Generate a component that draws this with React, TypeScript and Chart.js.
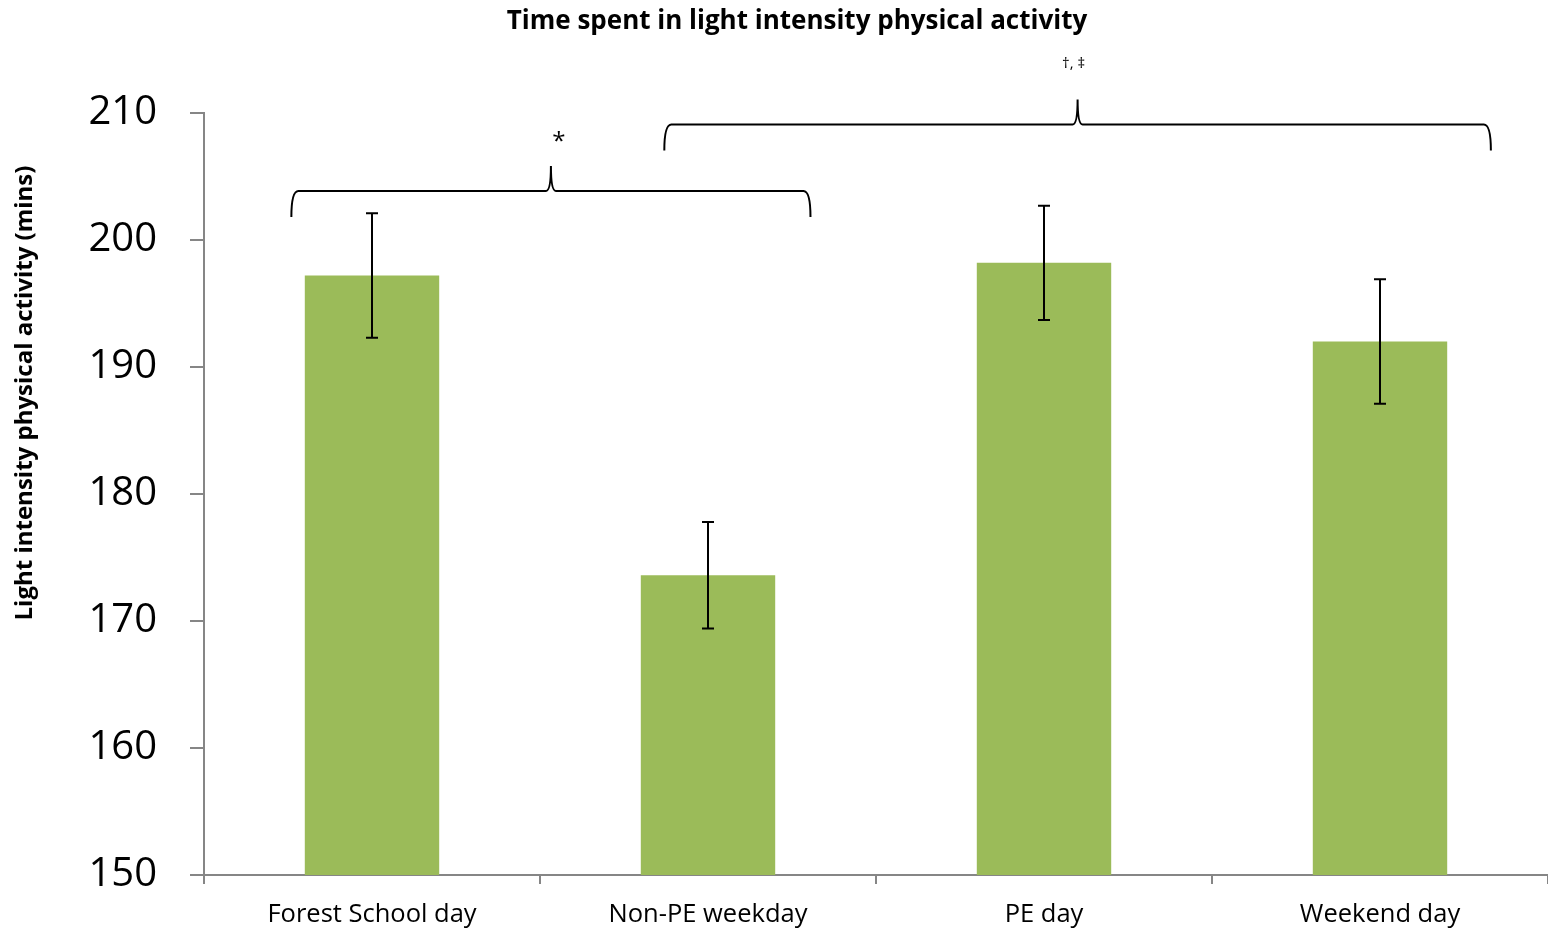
import React, { useEffect, useRef } from "react";
import { Chart, registerables } from "chart.js";

Chart.register(...registerables);

const categories = ["Forest School day", "Non-PE weekday", "PE day", "Weekend day"];
const meanMinutes = [197.2, 173.6, 198.2, 192.0];
const errorMinutes = [4.9, 4.2, 4.5, 4.9];
const yTicks = [150, 160, 170, 180, 190, 200, 210];

// Significance braces: span in category units, height in minutes
const braceStart = [-0.24, 0.87];
const braceEnd = [1.305, 3.33];
const braceLevel = [203.85, 209.1];
const braceLabels = ["*", "\u2020, \u2021"];

const FONT = "'Open Sans', 'DejaVu Sans', sans-serif";
const AXIS_GREY = "#868686";

const overlayPlugin = {
  id: "overlay",
  afterDatasetsDraw(chart: any) {
    const ctx = chart.ctx;
    const x = chart.scales.x;
    const y = chart.scales.y;
    const catW = x.getPixelForValue(1) - x.getPixelForValue(0);

    ctx.save();
    // error bars
    ctx.strokeStyle = "#000";
    ctx.lineWidth = 2;
    meanMinutes.forEach((m, i) => {
      const cx = x.getPixelForValue(i);
      const top = y.getPixelForValue(m + errorMinutes[i]);
      const bot = y.getPixelForValue(m - errorMinutes[i]);
      ctx.beginPath();
      ctx.moveTo(cx, top);
      ctx.lineTo(cx, bot);
      ctx.moveTo(cx - 6, top);
      ctx.lineTo(cx + 6, top);
      ctx.moveTo(cx - 6, bot);
      ctx.lineTo(cx + 6, bot);
      ctx.stroke();
    });

    // curly braces
    ctx.lineWidth = 2;
    braceStart.forEach((s, i) => {
      const x0 = x.getPixelForValue(0) + s * catW;
      const x1 = x.getPixelForValue(0) + braceEnd[i] * catW;
      const yl = y.getPixelForValue(braceLevel[i]);
      const xm = (x0 + x1) / 2;
      const leg = 26;
      const tip = 25;
      const r = 7;
      ctx.beginPath();
      ctx.moveTo(x0, yl + leg);
      ctx.quadraticCurveTo(x0, yl, x0 + r, yl);
      ctx.lineTo(xm - 5, yl);
      ctx.quadraticCurveTo(xm, yl, xm, yl - tip);
      ctx.quadraticCurveTo(xm, yl, xm + 5, yl);
      ctx.lineTo(x1 - r, yl);
      ctx.quadraticCurveTo(x1, yl, x1, yl + leg);
      ctx.stroke();

      ctx.fillStyle = "#000";
      ctx.textAlign = "center";
      ctx.textBaseline = "middle";
      if (i === 0) {
        ctx.font = `24px ${FONT}`;
        ctx.fillText(braceLabels[i], xm + 8, yl - 49);
      } else {
        ctx.font = `15px ${FONT}`;
        ctx.fillText(braceLabels[i], xm - 4, yl - 61);
      }
    });

    // title
    ctx.fillStyle = "#000";
    ctx.textAlign = "center";
    ctx.textBaseline = "middle";
    ctx.font = `bold 26px ${FONT}`;
    ctx.fillText("Time spent in light intensity physical activity", 797, 22);

    // y-axis title
    ctx.translate(25, 393);
    ctx.rotate(-Math.PI / 2);
    ctx.font = `bold 24px ${FONT}`;
    ctx.fillText("Light intensity physical activity (mins)", 0, 0);
    ctx.restore();
  },
};

export default function App() {
  const ref = useRef<HTMLCanvasElement>(null);

  useEffect(() => {
    if (!ref.current) return;
    const chart = new Chart(ref.current, {
      type: "bar",
      data: {
        labels: categories,
        datasets: [
          {
            data: meanMinutes,
            backgroundColor: "#9BBB59",
            borderWidth: 0,
            barPercentage: 0.4,
            categoryPercentage: 1,
          },
        ],
      },
      options: {
        responsive: false,
        animation: false,
        layout: { padding: { top: 113, left: 0, right: 0, bottom: 0 } },
        plugins: { legend: { display: false }, tooltip: { enabled: false } },
        scales: {
          x: {
            grid: {
              display: true,
              drawOnChartArea: false,
              drawTicks: true,
              tickLength: 9,
              color: AXIS_GREY,
              lineWidth: 2,
            },
            border: { color: AXIS_GREY, width: 2 },
            ticks: {
              color: "#000",
              font: { family: FONT, size: 25.5 },
              padding: 15,
              maxRotation: 0,
            },
            afterFit(scale: any) {
              scale.height = 53;
            },
          },
          y: {
            min: 150,
            max: 210,
            afterBuildTicks(scale: any) {
              scale.ticks = yTicks.map((v) => ({ value: v }));
            },
            grid: {
              display: true,
              drawOnChartArea: false,
              drawTicks: true,
              tickLength: 14,
              color: AXIS_GREY,
              lineWidth: 2,
            },
            border: { color: AXIS_GREY, width: 2 },
            ticks: {
              color: "#000",
              font: { family: FONT, size: 40 },
              padding: 33,
            },
            afterFit(scale: any) {
              scale.width = 204;
              scale.paddingTop = 0;
              scale.paddingBottom = 0;
            },
          },
        },
      },
      plugins: [overlayPlugin],
    });
    return () => chart.destroy();
  }, []);

  return (
    <div style={{ position: "absolute", left: 0, top: 0, width: 1548, height: 928, background: "#fff" }}>
      <canvas ref={ref} width={1548} height={928} style={{ display: "block" }} />
    </div>
  );
}
